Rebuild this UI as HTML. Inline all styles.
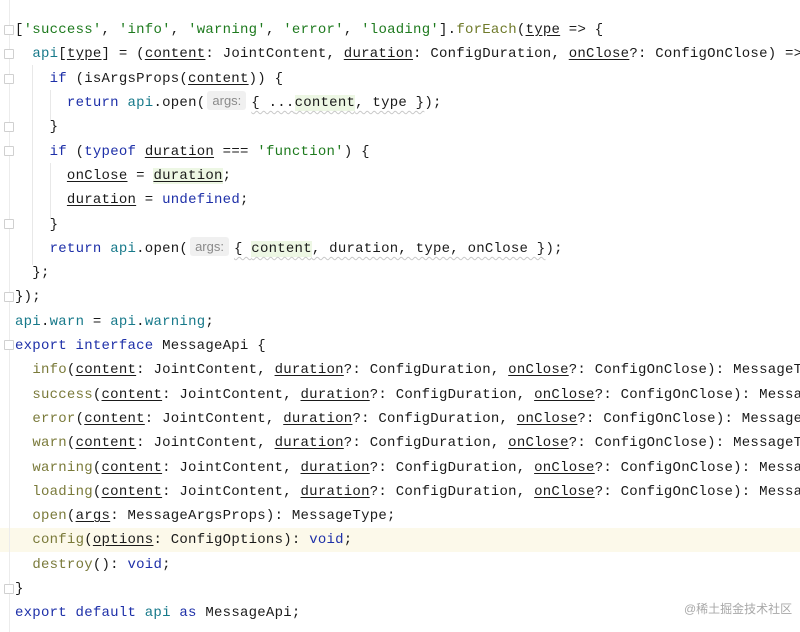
<!DOCTYPE html>
<html><head><meta charset="utf-8"><style>
html,body{margin:0;padding:0;background:#fff;width:800px;height:632px;overflow:hidden;position:relative}
#wrap{position:absolute;left:0;top:0;width:800px;height:632px;overflow:hidden}
.l{position:absolute;left:15px;height:24px;line-height:24px;font-family:"Liberation Mono",monospace;font-size:14px;letter-spacing:0.25px;color:#1a1a1a;white-space:pre}
.k{color:#1d2fa8}.s{color:#1e7a1e}.f{color:#6f7a2a}.a{color:#17798a}.m{color:#7a7a3a}
.u{text-decoration:underline;text-underline-offset:2px}
.h{display:inline-block;background:#f0f0f0;color:#8a8a8a;font-family:"Liberation Sans",sans-serif;font-size:13px;letter-spacing:0;line-height:19px;padding:0 5px;margin:0 5px 0 2px;border-radius:3px;vertical-align:1px}
.g{background:#edf7e4}
.w{text-decoration:underline wavy #c8c8c8;text-decoration-thickness:1px;text-underline-offset:4px}
.band{position:absolute;left:0;width:800px;top:528px;height:24px;background:#fcf9ea}
.gut{position:absolute;left:9px;top:0;width:1px;height:632px;background:#ececec}
.fold{position:absolute;left:4px;width:8px;height:8px;border:1px solid #d0d0d0;background:#fff;border-radius:1px}
.vg{position:absolute;width:1px;background:#e8e8e8}
.wm{position:absolute;left:684px;top:600px;font-family:"Liberation Sans","Noto Sans CJK SC",sans-serif;font-size:12px;color:#a8a8a8}
</style></head><body><div id="wrap">
<div class="band"></div>
<div class="gut"></div>
<div class="fold" style="top:25px"></div>
<div class="fold" style="top:49px"></div>
<div class="fold" style="top:74px"></div>
<div class="fold" style="top:122px"></div>
<div class="fold" style="top:146px"></div>
<div class="fold" style="top:219px"></div>
<div class="fold" style="top:292px"></div>
<div class="fold" style="top:340px"></div>
<div class="fold" style="top:584px"></div>
<div class="vg" style="left:50px;top:90px;height:30px"></div>
<div class="vg" style="left:50px;top:163px;height:55px"></div>
<div class="vg" style="left:32px;top:65px;height:200px"></div>

<div class="l" style="top:18px">[<span class="s">'success'</span>, <span class="s">'info'</span>, <span class="s">'warning'</span>, <span class="s">'error'</span>, <span class="s">'loading'</span>].<span class="f">forEach</span>(<span class="u">type</span> =&gt; {</div>
<div class="l" style="top:42px">  <span class="a">api</span>[<span class="u">type</span>] = (<span class="u">content</span>: JointContent, <span class="u">duration</span>: ConfigDuration, <span class="u">onClose</span>?: ConfigOnClose) =&gt;</div>
<div class="l" style="top:67px">    <span class="k">if</span> (isArgsProps(<span class="u">content</span>)) {</div>
<div class="l" style="top:91px">      <span class="k">return</span> <span class="a">api</span>.open(<span class="h">args:</span><span class="w">{ ...<span class="g">content</span>, type }</span>);</div>
<div class="l" style="top:115px">    }</div>
<div class="l" style="top:140px">    <span class="k">if</span> (<span class="k">typeof</span> <span class="u">duration</span> === <span class="s">'function'</span>) {</div>
<div class="l" style="top:164px">      <span class="u">onClose</span> = <span class="u g">duration</span>;</div>
<div class="l" style="top:188px">      <span class="u">duration</span> = <span class="k">undefined</span>;</div>
<div class="l" style="top:213px">    }</div>
<div class="l" style="top:237px">    <span class="k">return</span> <span class="a">api</span>.open(<span class="h">args:</span><span class="w">{ <span class="g">content</span>, duration, type, onClose }</span>);</div>
<div class="l" style="top:261px">  };</div>
<div class="l" style="top:285px">});</div>
<div class="l" style="top:310px"><span class="a">api</span>.<span class="a">warn</span> = <span class="a">api</span>.<span class="a">warning</span>;</div>
<div class="l" style="top:334px"><span class="k">export interface</span> MessageApi {</div>
<div class="l" style="top:358px">  <span class="m">info</span>(<span class="u">content</span>: JointContent, <span class="u">duration</span>?: ConfigDuration, <span class="u">onClose</span>?: ConfigOnClose): MessageType;</div>
<div class="l" style="top:383px">  <span class="m">success</span>(<span class="u">content</span>: JointContent, <span class="u">duration</span>?: ConfigDuration, <span class="u">onClose</span>?: ConfigOnClose): MessageType;</div>
<div class="l" style="top:407px">  <span class="m">error</span>(<span class="u">content</span>: JointContent, <span class="u">duration</span>?: ConfigDuration, <span class="u">onClose</span>?: ConfigOnClose): MessageType;</div>
<div class="l" style="top:431px">  <span class="m">warn</span>(<span class="u">content</span>: JointContent, <span class="u">duration</span>?: ConfigDuration, <span class="u">onClose</span>?: ConfigOnClose): MessageType;</div>
<div class="l" style="top:456px">  <span class="m">warning</span>(<span class="u">content</span>: JointContent, <span class="u">duration</span>?: ConfigDuration, <span class="u">onClose</span>?: ConfigOnClose): MessageType;</div>
<div class="l" style="top:480px">  <span class="m">loading</span>(<span class="u">content</span>: JointContent, <span class="u">duration</span>?: ConfigDuration, <span class="u">onClose</span>?: ConfigOnClose): MessageType;</div>
<div class="l" style="top:504px">  <span class="m">open</span>(<span class="u">args</span>: MessageArgsProps): MessageType;</div>
<div class="l" style="top:528px">  <span class="m">config</span>(<span class="u">options</span>: ConfigOptions): <span class="k">void</span>;</div>
<div class="l" style="top:553px">  <span class="m">destroy</span>(): <span class="k">void</span>;</div>
<div class="l" style="top:577px">}</div>
<div class="l" style="top:601px"><span class="k">export default</span> <span class="a">api</span> <span class="k">as</span> MessageApi;</div>
<div class="wm">@稀土掘金技术社区</div>
</div></body></html>
